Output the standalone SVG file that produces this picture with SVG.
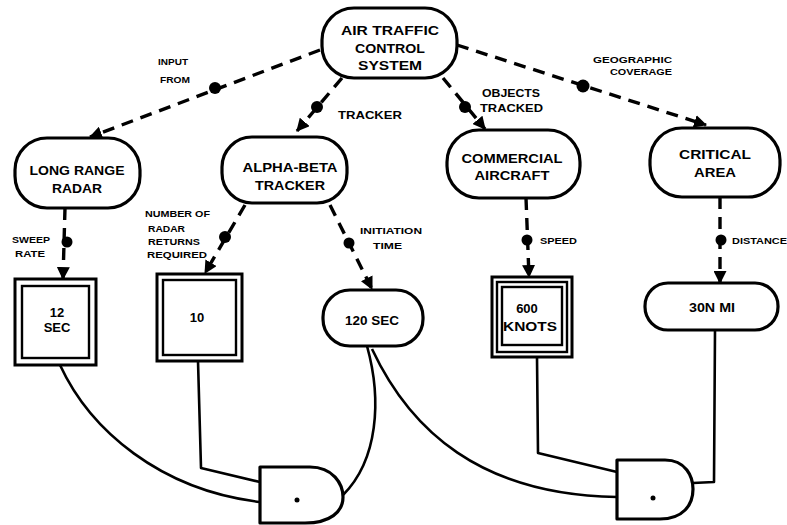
<svg xmlns="http://www.w3.org/2000/svg" width="787" height="525" viewBox="0 0 787 525">
  <style>
    .pill { fill: #fff; stroke: #000; stroke-width: 3.2; }
    .box { fill: #fff; stroke: #000; stroke-width: 3; }
    .box2 { fill: none; stroke: #000; stroke-width: 2.4; }
    .gate { fill: #fff; stroke: #000; stroke-width: 3.2; stroke-linejoin: round; }
    .dash { fill: none; stroke: #000; stroke-width: 3.4; stroke-dasharray: 12 8; marker-end: url(#tri); }
    .wire { fill: none; stroke: #000; stroke-width: 2.6; stroke-linejoin: round; }
    .blob { fill: #000; }
    .nt { font-family: "Liberation Sans", Arial, sans-serif; font-weight: bold; font-size: 13px; text-anchor: middle; fill: #000; }
    .lb { font-family: "Liberation Sans", Arial, sans-serif; font-weight: bold; font-size: 9.5px; fill: #000; }
    .lm { font-family: "Liberation Sans", Arial, sans-serif; font-weight: bold; font-size: 10.5px; fill: #000; }
  </style>
  <defs>
    <marker id="tri" viewBox="0 0 12 12" refX="11" refY="6" markerWidth="13" markerHeight="13" markerUnits="userSpaceOnUse" orient="auto">
      <path d="M0,0 L12,6 L0,12 Z" fill="#000"/>
    </marker>
  </defs>

  <!-- dashed relation lines with their mid-line dots -->
  <g id="connectors">
    <path class="dash" d="M320,50 L90,137"/>
    <circle class="blob" cx="215" cy="88" r="6"/>
    <path class="dash" d="M342,78 L297,131"/>
    <circle class="blob" cx="317" cy="107" r="6"/>
    <path class="dash" d="M443,78 L485,129"/>
    <circle class="blob" cx="465" cy="107" r="6"/>
    <path class="dash" d="M457,45 L706,125"/>
    <circle class="blob" cx="583" cy="86" r="6.5"/>
    <path class="dash" d="M65,208 L63,279"/>
    <circle class="blob" cx="67" cy="242" r="5.5"/>
    <path class="dash" d="M245,205 L205,273"/>
    <circle class="blob" cx="225" cy="237" r="6"/>
    <path class="dash" d="M330,205 L372,289"/>
    <circle class="blob" cx="349" cy="243" r="5.5"/>
    <path class="dash" d="M526,198 L529,277"/>
    <circle class="blob" cx="527" cy="240" r="5.5"/>
    <path class="dash" d="M720,197 L720,283"/>
    <circle class="blob" cx="721" cy="240" r="5.5"/>

    <!-- solid wiring into the gates -->
    <path class="wire" d="M60,365 C90,430 160,490 260,502"/>
    <path class="wire" d="M198,361 L201,468 L260,482"/>
    <path class="wire" d="M367,346 C382,400 378,460 343,495"/>
    <path class="wire" d="M372,349 C410,430 480,495 617,497"/>
    <path class="wire" d="M537,357 L538,453 L617,472"/>
    <path class="wire" d="M715,330 L714,482 L693,483"/>
  </g>

  <!-- connector labels -->
  <g id="labels">
    <text class="lb" x="158" y="65" textLength="30" lengthAdjust="spacingAndGlyphs">INPUT</text>
    <text class="lb" x="160" y="83" textLength="30" lengthAdjust="spacingAndGlyphs">FROM</text>
    <text class="lm" x="338" y="119" textLength="64" lengthAdjust="spacingAndGlyphs">TRACKER</text>
    <text class="lm" x="482" y="97" textLength="58" lengthAdjust="spacingAndGlyphs">OBJECTS</text>
    <text class="lm" x="480" y="112" textLength="63" lengthAdjust="spacingAndGlyphs">TRACKED</text>
    <text class="lb" x="593" y="63" textLength="79" lengthAdjust="spacingAndGlyphs">GEOGRAPHIC</text>
    <text class="lb" x="610" y="75" textLength="62" lengthAdjust="spacingAndGlyphs">COVERAGE</text>
    <text class="lb" x="12" y="243" textLength="38" lengthAdjust="spacingAndGlyphs">SWEEP</text>
    <text class="lb" x="15" y="257" textLength="30" lengthAdjust="spacingAndGlyphs">RATE</text>
    <text class="lb" x="145" y="217" textLength="65" lengthAdjust="spacingAndGlyphs">NUMBER OF</text>
    <text class="lb" x="148" y="232" textLength="37" lengthAdjust="spacingAndGlyphs">RADAR</text>
    <text class="lb" x="148" y="245" textLength="52" lengthAdjust="spacingAndGlyphs">RETURNS</text>
    <text class="lb" x="147" y="258" textLength="60" lengthAdjust="spacingAndGlyphs">REQUIRED</text>
    <text class="lb" x="360" y="234" textLength="62" lengthAdjust="spacingAndGlyphs">INITIATION</text>
    <text class="lb" x="373" y="249" textLength="29" lengthAdjust="spacingAndGlyphs">TIME</text>
    <text class="lb" x="540" y="244" textLength="37" lengthAdjust="spacingAndGlyphs">SPEED</text>
    <text class="lb" x="732" y="244" textLength="55" lengthAdjust="spacingAndGlyphs">DISTANCE</text>
  </g>

  <g id="air-traffic-control-system">
    <rect class="pill" x="322" y="8" width="135" height="70" rx="32"/>
    <text class="nt" x="390" y="35" textLength="98" lengthAdjust="spacingAndGlyphs">AIR TRAFFIC</text>
    <text class="nt" x="390" y="53" textLength="70" lengthAdjust="spacingAndGlyphs">CONTROL</text>
    <text class="nt" x="390" y="70" textLength="64" lengthAdjust="spacingAndGlyphs">SYSTEM</text>
  </g>

  <g id="long-range-radar">
    <rect class="pill" x="15" y="138" width="125" height="70" rx="32"/>
    <text class="nt" x="77" y="175" textLength="95" lengthAdjust="spacingAndGlyphs">LONG RANGE</text>
    <text class="nt" x="77" y="193" textLength="50" lengthAdjust="spacingAndGlyphs">RADAR</text>
  </g>

  <g id="alpha-beta-tracker">
    <rect class="pill" x="222" y="137" width="125" height="66" rx="30"/>
    <text class="nt" x="290" y="172" textLength="95" lengthAdjust="spacingAndGlyphs">ALPHA-BETA</text>
    <text class="nt" x="290" y="190" textLength="70" lengthAdjust="spacingAndGlyphs">TRACKER</text>
  </g>

  <g id="commercial-aircraft">
    <rect class="pill" x="447" y="130" width="133" height="68" rx="32"/>
    <text class="nt" x="512" y="163" textLength="101" lengthAdjust="spacingAndGlyphs">COMMERCIAL</text>
    <text class="nt" x="512" y="180" textLength="75" lengthAdjust="spacingAndGlyphs">AIRCRAFT</text>
  </g>

  <g id="critical-area">
    <rect class="pill" x="650" y="128" width="130" height="69" rx="32"/>
    <text class="nt" x="715" y="159" textLength="72" lengthAdjust="spacingAndGlyphs">CRITICAL</text>
    <text class="nt" x="715" y="177" textLength="42" lengthAdjust="spacingAndGlyphs">AREA</text>
  </g>

  <g id="sweep-12-sec">
    <rect class="box" x="15" y="279" width="81" height="86"/>
    <rect class="box2" x="22" y="286" width="67" height="72"/>
    <text class="nt" x="57" y="317" font-size="12">12</text>
    <text class="nt" x="57" y="332" font-size="12">SEC</text>
  </g>

  <g id="returns-10">
    <rect class="box" x="157" y="274" width="85" height="87"/>
    <rect class="box2" x="163" y="280" width="73" height="75"/>
    <text class="nt" x="197" y="322" font-size="12">10</text>
  </g>

  <g id="initiation-120-sec">
    <rect class="pill" x="323" y="290" width="100" height="56" rx="27"/>
    <text class="nt" x="372" y="325" font-size="12" textLength="54" lengthAdjust="spacingAndGlyphs">120 SEC</text>
  </g>

  <g id="speed-600-knots">
    <rect class="box" x="492" y="277" width="80" height="80"/>
    <rect class="box2" x="497" y="282" width="70" height="70"/>
    <rect class="box2" x="502" y="287" width="60" height="58"/>
    <text class="nt" x="527" y="313" font-size="12">600</text>
    <text class="nt" x="530" y="331" font-size="12" textLength="54" lengthAdjust="spacingAndGlyphs">KNOTS</text>
  </g>

  <g id="distance-30-nmi">
    <rect class="pill" x="645" y="283" width="133" height="47" rx="23"/>
    <text class="nt" x="712" y="312" font-size="12" textLength="46" lengthAdjust="spacingAndGlyphs">30N MI</text>
  </g>

  <g id="gate-1">
    <path class="gate" d="M260,467 H310 C333,467 343,484 343,497 C343,512 330,523 305,523 H260 Z"/>
    <circle class="blob" cx="297" cy="500" r="2.5"/>
  </g>

  <g id="gate-2">
    <path class="gate" d="M617,460 H665 C686,460 693,477 693,489 C693,505 683,519 660,519 H617 Z"/>
    <circle class="blob" cx="653" cy="498" r="2.5"/>
  </g>
</svg>
